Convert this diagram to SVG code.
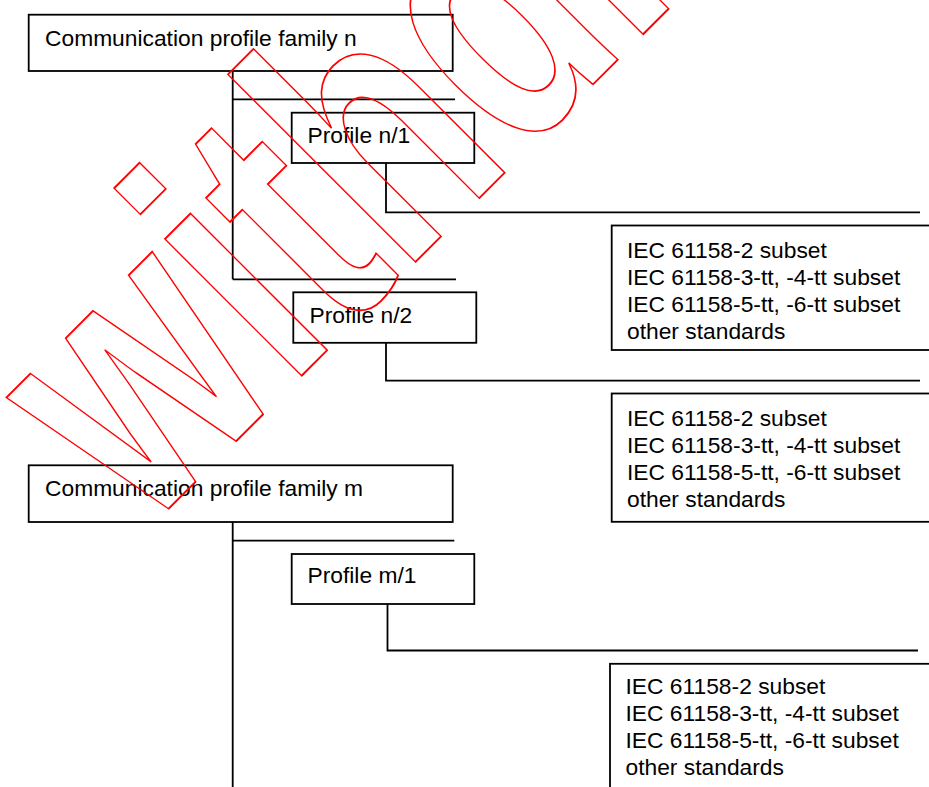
<svg xmlns="http://www.w3.org/2000/svg" width="929" height="787" viewBox="0 0 929 787">
<style>
.box{fill:#fff;stroke:#000;stroke-width:1.8}
.lbl{font-family:"Liberation Sans",Arial,sans-serif;font-size:22.8px;fill:#000}
.con{fill:none;stroke:#000;stroke-width:1.8}
.wm{font-family:"Liberation Sans",Arial,sans-serif;font-weight:bold;font-size:366px;fill:none;stroke:#f00;stroke-width:1.9}
</style>
<rect width="929" height="787" fill="#fff"/>
<g id="connectors">
<path class="con" d="M232.7,72 V279.3 M232.7,99.3 H455 M232.7,279.3 H456"/>
<path class="con" d="M386,163 V212.3 H920"/>
<path class="con" d="M386,343 V380.7 H920"/>
<path class="con" d="M232.7,514 V787 M232.7,540.7 H454.3"/>
<path class="con" d="M387.5,604 V650.5 H918"/>
</g>
<g id="family-n">
<rect class="box" x="28.7" y="14.7" width="424" height="56.3"/>
<text class="lbl" x="45" y="45.5">Communication profile family n</text>
</g>
<g id="profile-n1">
<rect class="box" x="291.7" y="112.7" width="182.6" height="50.3"/>
<text class="lbl" x="307.5" y="142.7">Profile n/1</text>
</g>
<g id="std-n1">
<rect class="box" x="611.7" y="225.5" width="330" height="124.5"/>
<text class="lbl" x="627" y="257.5">IEC 61158-2 subset</text>
<text class="lbl" x="627" y="284.5">IEC 61158-3-tt, -4-tt subset</text>
<text class="lbl" x="627" y="311.5">IEC 61158-5-tt, -6-tt subset</text>
<text class="lbl" x="627" y="338.5">other standards</text>
</g>
<g id="profile-n2">
<rect class="box" x="293.3" y="292.3" width="183" height="50.5"/>
<text class="lbl" x="309.5" y="322.7">Profile n/2</text>
</g>
<g id="std-n2">
<rect class="box" x="611.7" y="393.5" width="330" height="128.3"/>
<text class="lbl" x="627" y="425.5">IEC 61158-2 subset</text>
<text class="lbl" x="627" y="452.5">IEC 61158-3-tt, -4-tt subset</text>
<text class="lbl" x="627" y="479.5">IEC 61158-5-tt, -6-tt subset</text>
<text class="lbl" x="627" y="506.5">other standards</text>
</g>
<g id="family-m">
<rect class="box" x="28.7" y="465.3" width="424" height="56.7"/>
<text class="lbl" x="45" y="496">Communication profile family m</text>
</g>
<g id="profile-m1">
<rect class="box" x="291.7" y="554" width="182.6" height="50"/>
<text class="lbl" x="307.5" y="583.3">Profile m/1</text>
</g>
<g id="std-m1">
<rect class="box" x="610" y="663.8" width="332" height="140"/>
<text class="lbl" x="625.5" y="694">IEC 61158-2 subset</text>
<text class="lbl" x="625.5" y="721">IEC 61158-3-tt, -4-tt subset</text>
<text class="lbl" x="625.5" y="748">IEC 61158-5-tt, -6-tt subset</text>
<text class="lbl" x="625.5" y="775">other standards</text>
</g>
<g id="watermark" transform="translate(143.7,533.7) rotate(-45)">
<text class="wm" transform="scale(0.72,1)">withdrawn</text>
</g>
</svg>
